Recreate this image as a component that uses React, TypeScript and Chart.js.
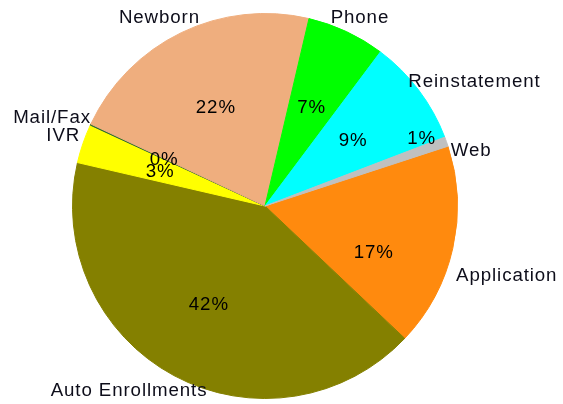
import React, { useEffect, useRef } from "react";
import { Chart, registerables } from "chart.js";

Chart.register(...registerables);

const categories = ["Application", "Auto Enrollments", "IVR", "Mail/Fax", "Newborn", "Phone", "Reinstatement", "Web"];
const counts = [172, 418, 33, 1, 218, 66, 90, 8];
const sliceColors = ["#FF8A0E", "#848000", "#FFFF00", "#2E6B30", "#EFAE7E", "#00FF00", "#00FFFF", "#C0C0C0"];

// label placement (angle offset in degrees from slice middle, radius as a fraction of pie radius)
const pctAngleOffset = [10.1, 1.8, 0, 0.3, -0.4, 0, 0.1, -4.2];
const pctRadius = [0.611, 0.581, 0.575, 0.578, 0.577, 0.572, 0.572, 0.886];
const nameAngleOffset = [3.0, 8.3, 0.6, -2.1, -3.3, 1.56, 6.0, 4.1];
const nameRadius = [1.301, 1.183, 1.109, 1.198, 1.125, 1.099, 1.267, 1.108];

const FONT_SIZE = 18.7;

const labelPlugin = {
  id: "pieLabels",
  afterDatasetsDraw(chart: any) {
    const ctx = chart.ctx;
    const meta = chart.getDatasetMeta(0);
    const data = chart.data.datasets[0].data as number[];
    const total = data.reduce((a, b) => a + b, 0);
    ctx.save();
    ctx.font = `${FONT_SIZE}px "Liberation Sans", Arial, sans-serif`;
    (ctx as any).letterSpacing = "0.9px";
    ctx.textAlign = "center";
    ctx.textBaseline = "alphabetic";
    const capHalf = FONT_SIZE * 0.716 / 2;
    meta.data.forEach((arc: any, i: number) => {
      const { x, y, startAngle, endAngle, outerRadius } = arc.getProps(
        ["x", "y", "startAngle", "endAngle", "outerRadius"],
        true
      );
      const mid = (startAngle + endAngle) / 2;
      const R = outerRadius + 0.5;
      // percentage
      const pa = mid + (pctAngleOffset[i] * Math.PI) / 180;
      const pr = R * pctRadius[i];
      const pct = Math.round((data[i] / total) * 100) + "%";
      ctx.fillStyle = "#000000";
      ctx.fillText(pct, x + pr * Math.cos(pa), y + pr * Math.sin(pa) + capHalf);
      // category name
      const na = mid + (nameAngleOffset[i] * Math.PI) / 180;
      const nr = R * nameRadius[i];
      ctx.fillStyle = "#0d0d1a";
      ctx.fillText(categories[i], x + nr * Math.cos(na), y + nr * Math.sin(na) + capHalf);
    });
    ctx.restore();
  },
};

export default function App() {
  const ref = useRef<HTMLCanvasElement | null>(null);
  useEffect(() => {
    document.body.style.margin = "0";
    const canvas = ref.current;
    if (!canvas) return;
    const chart = new Chart(canvas, {
      type: "pie",
      data: {
        labels: categories,
        datasets: [
          {
            data: counts,
            backgroundColor: sliceColors,
            borderColor: sliceColors,
            borderWidth: 1,
          },
        ],
      },
      options: {
        responsive: false,
        animation: false,
        rotation: 71.9,
        layout: { padding: { left: 72, right: 105, top: 13, bottom: 5 } },
        plugins: {
          legend: { display: false },
          tooltip: { enabled: false },
        },
      },
      plugins: [labelPlugin],
    });
    return () => chart.destroy();
  }, []);
  return (
    <div style={{ width: 563, height: 404, background: "#ffffff" }}>
      <canvas ref={ref} width={563} height={404} style={{ display: "block" }} />
    </div>
  );
}
